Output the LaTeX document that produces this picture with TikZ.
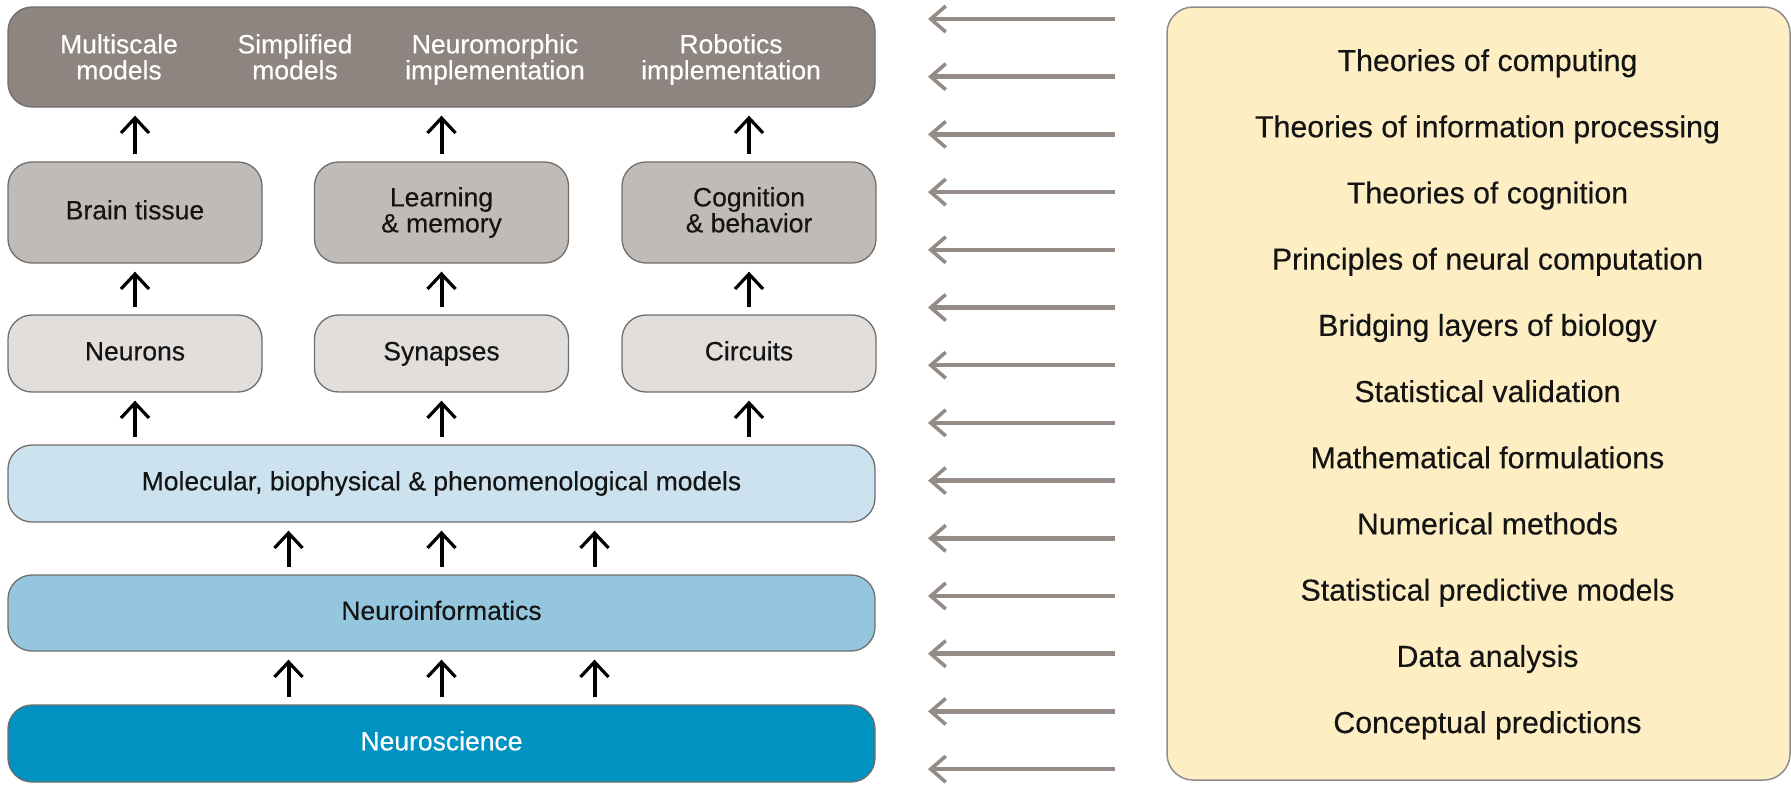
\documentclass[tikz,border=0pt]{standalone}
\usepackage{fontspec}
\setmainfont{Liberation Sans}[FakeBold=0.3]
\usetikzlibrary{arrows.meta,calc}
\definecolor{topgray}{HTML}{8E8580}
\definecolor{midgray}{HTML}{C0BBB6}
\definecolor{lightgray}{HTML}{E1DEDB}
\definecolor{molblue}{HTML}{CCE3EF}
\definecolor{niblue}{HTML}{94C7DE}
\definecolor{nsblue}{HTML}{0092C0}
\definecolor{cream}{HTML}{FDEEC4}
\definecolor{arrgray}{HTML}{948B86}
\definecolor{boxline}{HTML}{6E6E6E}
\definecolor{creamline}{HTML}{8C8C8C}
\definecolor{txt}{HTML}{141414}
\begin{document}
\begin{tikzpicture}[x=1pt,y=-1pt,
  box/.style={draw=boxline, line width=1.3pt, rounded corners=24pt, inner sep=0pt},
  lbl/.style={font=\fontsize{26.5}{26}\selectfont, text=txt},
  onel/.style={lbl, text height=19.3pt, text depth=5.6pt},
  twol/.style={lbl, align=center},
  wlbl/.style={font=\fontsize{26.5}{26}\selectfont, text=white, align=center, inner sep=0pt, anchor=north},
  rlbl/.style={font=\fontsize{30.3}{31}\selectfont, text=txt, anchor=base, inner sep=0pt},
  up/.style={draw=black, line width=4pt, shorten <=7.5pt, shorten >=8pt,
    -{Straight Barb[length=15pt,width=28pt,line width=3.2pt]}},
  back/.style={draw=arrgray, line width=4.5pt,
    -{Straight Barb[length=15pt,width=26pt,line width=3.6pt]}}]
\useasboundingbox (0,0) rectangle (1791,785);

% top box
\node[box, fill=topgray, minimum width=867pt, minimum height=100pt] (top) at (441.5,57) {};
\node[wlbl] (ms) at (119,34) {Multiscale\\models};
\node[wlbl] (sm) at (295,34) {Simplified\\models};
\node[wlbl] (nm) at (495,34) {Neuromorphic\\implementation};
\node[wlbl] (ro) at (731,34) {Robotics\\implementation};

% row 2
\node[box, fill=midgray, minimum width=254pt, minimum height=101pt, onel] (brain) at (135,212.5) {Brain tissue};
\node[box, fill=midgray, minimum width=254pt, minimum height=101pt, twol] (learn) at (441.5,212.5) {Learning\\\& memory};
\node[box, fill=midgray, minimum width=254pt, minimum height=101pt, twol] (cogn) at (749,212.5) {Cognition\\\& behavior\vphantom{y}};

% row 3
\node[box, fill=lightgray, minimum width=254pt, minimum height=77pt, onel] (neur) at (135,353.5) {Neurons};
\node[box, fill=lightgray, minimum width=254pt, minimum height=77pt, onel] (syn) at (441.5,353.5) {Synapses};
\node[box, fill=lightgray, minimum width=254pt, minimum height=77pt, onel] (circ) at (749,353.5) {Circuits};

% wide rows
\node[box, fill=molblue, minimum width=867pt, minimum height=77pt, onel] (mol) at (441.5,483.5) {Molecular, biophysical \& phenomenological models};
\node[box, fill=niblue, minimum width=867pt, minimum height=76pt, onel] (ni) at (441.5,613) {Neuroinformatics};
\node[box, fill=nsblue, minimum width=867pt, minimum height=77pt, onel, text=white] (ns) at (441.5,743.5) {Neuroscience};

% black arrows
\draw[up] (brain.north) -- (brain.north |- top.south);
\draw[up] (learn.north) -- (learn.north |- top.south);
\draw[up] (cogn.north) -- (cogn.north |- top.south);
\draw[up] (neur.north) -- (brain.south);
\draw[up] (syn.north) -- (learn.south);
\draw[up] (circ.north) -- (cogn.south);
\draw[up] (neur.south |- mol.north) -- (neur.south);
\draw[up] (syn.south |- mol.north) -- (syn.south);
\draw[up] (circ.south |- mol.north) -- (circ.south);
\foreach \dx in {-153,0,153} {
  \draw[up] ([xshift=\dx pt]ni.north) -- ([xshift=\dx pt]mol.south);
  \draw[up] ([xshift=\dx pt]ns.north) -- ([xshift=\dx pt]ni.south);
}

% right panel
\node[draw=creamline, line width=1.5pt, fill=cream, rounded corners=26pt, minimum width=623pt, minimum height=773pt, inner sep=0pt] (panel) at (1478.5,393.5) {};
\foreach \t [count=\k from 0] in {Theories of computing, Theories of information processing, Theories of cognition, Principles of neural computation, Bridging layers of biology, Statistical validation, Mathematical formulations, Numerical methods, Statistical predictive models, Data analysis, Conceptual predictions} {
  \node[rlbl] (r\k) at (1487.5, 71+66.2*\k) {\t};
}

% gray arrows
\foreach \i in {0,...,13} {
  \coordinate (gt\i) at (1115, 19+57.7*\i);
  \coordinate (gh\i) at (928, 19+57.7*\i);
  \draw[back] (gt\i) -- (gh\i);
}
\end{tikzpicture}
\end{document}
